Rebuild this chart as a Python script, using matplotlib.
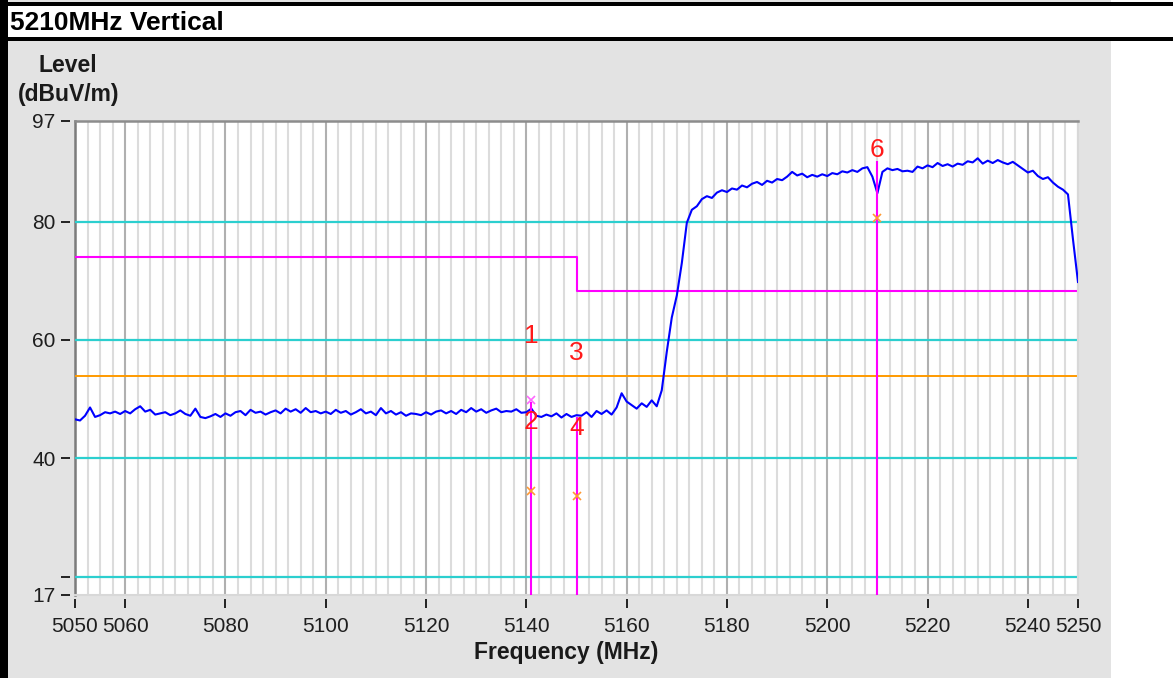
import numpy as np
import matplotlib.pyplot as plt
from matplotlib.patches import Rectangle
from matplotlib.ticker import MultipleLocator

plt.rcParams['font.family'] = ['Liberation Sans', 'DejaVu Sans']

# scan trace, 1 MHz steps (dBuV/m)
freq = np.arange(5050, 5251, 1)
level = [
    46.6, 46.4, 47.2, 48.6, 47.0, 47.3, 47.8, 47.6, 47.9, 47.5,   # 5050
    48.0, 47.6, 48.3, 48.8, 47.9, 48.2, 47.4, 47.6, 47.8, 47.3,   # 5060
    47.6, 48.1, 47.5, 47.2, 48.4, 47.0, 46.8, 47.1, 47.5, 47.0,   # 5070
    47.6, 47.2, 47.8, 48.0, 47.3, 48.2, 47.7, 47.9, 47.4, 47.8,   # 5080
    48.1, 47.6, 48.4, 47.9, 48.3, 47.7, 48.5, 47.8, 48.0, 47.6,   # 5090
    47.9, 47.5, 48.2, 47.7, 48.0, 47.4, 47.8, 48.3, 47.6, 47.9,   # 5100
    47.3, 48.5, 47.6, 48.0, 47.4, 47.8, 47.2, 47.6, 47.5, 47.3,   # 5110
    47.8, 47.4, 47.9, 48.1, 47.6, 48.0, 47.5, 48.2, 47.8, 48.5,   # 5120
    47.9, 48.3, 47.7, 48.1, 48.4, 47.8, 48.0, 47.9, 48.3, 47.7,   # 5130
    47.8, 48.4, 47.2, 47.0, 47.4, 47.1, 47.6, 46.9, 47.5, 47.0,   # 5140
    47.3, 47.2, 47.8, 47.0, 48.0, 47.5, 48.1, 47.4, 48.6, 51.0,   # 5150
    49.6, 49.0, 48.4, 49.3, 48.7, 49.8, 48.8, 51.5, 58.0, 63.8,   # 5160
    67.5, 73.0, 79.8, 82.0, 82.6, 83.8, 84.3, 84.0, 84.9, 85.3,   # 5170
    85.0, 85.6, 85.4, 86.1, 85.8, 86.4, 86.7, 86.2, 86.9, 86.6,   # 5180
    87.2, 87.0, 87.6, 88.4, 87.8, 88.1, 87.5, 87.9, 87.6, 88.0,   # 5190
    87.7, 88.2, 88.0, 88.5, 88.3, 88.7, 88.4, 89.0, 89.2, 87.6,   # 5200
    84.8, 88.4, 89.0, 88.7, 88.9, 88.5, 88.6, 88.4, 89.3, 89.0,   # 5210
    89.5, 89.2, 89.9, 89.4, 89.7, 89.3, 89.8, 89.6, 90.2, 90.0,   # 5220
    90.7, 89.8, 90.3, 89.9, 90.4, 90.0, 89.7, 90.1, 89.5, 88.9,   # 5230
    88.3, 88.6, 87.7, 87.2, 87.5, 86.6, 85.9, 85.4, 84.6, 77.0,   # 5240
    69.8,                                                         # 5250
]

# limits
limit_freq = [5050, 5150, 5150, 5250]
limit_level = [74, 74, 68.2, 68.2]
avg_limit = 54
ref_levels = [80, 60, 40, 20]

# markers
mark_freq = [5141, 5150, 5210]
mark_top = [49.5, 47.0, 90.3]
peak_freq = [5141]
peak_level = [49.8]
avg_freq = [5141, 5150, 5210]
avg_level = [34.5, 33.7, 80.6]
label_text = ['1', '2', '3', '4', '6']
label_freq = [5141, 5141, 5150, 5150, 5210]
label_level = [60.6, 46.1, 57.8, 45.1, 92.1]

xticks = [5050, 5060, 5080, 5100, 5120, 5140, 5160, 5180, 5200, 5220, 5240, 5250]
yticks = [17, 20, 40, 60, 80, 97]
ytick_labels = ['17', '', '40', '60', '80', '97']

W, H = 1173, 678
fig = plt.figure(figsize=(W / 100, H / 100), dpi=100)
fig.patch.set_facecolor('white')


def box(x0, y0, x1, y1, color):
    # rectangle in pixel coords, origin top-left
    fig.add_artist(Rectangle((x0 / W, 1 - y1 / H), (x1 - x0) / W, (y1 - y0) / H,
                             transform=fig.transFigure, facecolor=color, lw=0, zorder=0))


box(8, 41, 1111, 678, '#e3e3e3')
box(8, 0, 1111, 2, '#e3e3e3')
box(0, 2, 1173, 6, 'black')
box(0, 37, 1173, 41, 'black')
box(0, 0, 8, 678, 'black')

ax = fig.add_axes([75 / W, 1 - 594.5 / H, (1078 - 75) / W, (594.5 - 121) / H])
ax.set_facecolor('white')
ax.set_xlim(5050, 5250)
ax.set_ylim(17, 97)

ax.xaxis.set_minor_locator(MultipleLocator(2.5))
ax.grid(axis='x', which='minor', color='#dcdcdc', lw=1.5)
ax.grid(axis='x', which='major', color='#b0b0b0', lw=1.5)
ax.set_axisbelow(True)

for s in ['left', 'bottom']:
    ax.spines[s].set_position(('outward', 3.5))
    ax.spines[s].set_visible(False)
ax.spines['top'].set_color('#8c8c8c')
ax.spines['top'].set_linewidth(1.8)
ax.spines['right'].set_color('#d8d8d8')
ax.spines['right'].set_linewidth(1.5)
ax.axvline(5050, color='#7c7c7c', lw=1.8, clip_on=False, zorder=1)
ax.axhline(17, color='#d8d8d8', lw=1.5, clip_on=False, zorder=1)

for r in ref_levels:
    ax.axhline(r, color='#2ccfcf', lw=1.6, zorder=2)
ax.axhline(avg_limit, color='#ff9a00', lw=1.4, zorder=2)
ax.plot(limit_freq, limit_level, color='#ff00ff', lw=1.5, zorder=2)

ax.plot(freq, level, color='#0000ff', lw=1.5, zorder=3)

ax.vlines(mark_freq, 17, mark_top, color='#ff00ff', lw=1.5, zorder=4)
ax.plot(peak_freq, peak_level, 'x', color='#ff66ff', ms=6, mew=1.2, zorder=5)
ax.plot(avg_freq, avg_level, 'x', color='#ff9933', ms=6, mew=1.2, zorder=5)
for t, f, l in zip(label_text, label_freq, label_level):
    ax.text(f, l, t, color='#ff1a1a', fontsize=19, ha='center', va='center', zorder=6)

ax.set_xticks(xticks)
ax.set_yticks(yticks, ytick_labels)
ax.tick_params(axis='both', which='major', direction='out', length=6.5, width=1.4,
               color='#222222', labelsize=15, labelcolor='#1e1e1e')
ax.tick_params(axis='x', which='major', pad=6)
ax.tick_params(axis='y', which='major', pad=4)
ax.tick_params(axis='x', which='minor', length=0)

fig.text(10 / W, 1 - 23 / H, '5210MHz Vertical', fontsize=19, fontweight='bold',
         ha='left', va='center')
fig.text(68 / W, 1 - 66 / H, 'Level', fontsize=16.5, fontweight='bold',
         ha='center', va='center', color='#1a1a1a')
fig.text(69 / W, 1 - 95 / H, '(dBuV/m)', fontsize=16.5, fontweight='bold',
         ha='center', va='center', color='#1a1a1a')
fig.text(566 / W, 1 - 652 / H, 'Frequency (MHz)', fontsize=16.5, fontweight='bold',
         ha='center', va='center', color='#1a1a1a')

fig.savefig('out.png', dpi=100)
